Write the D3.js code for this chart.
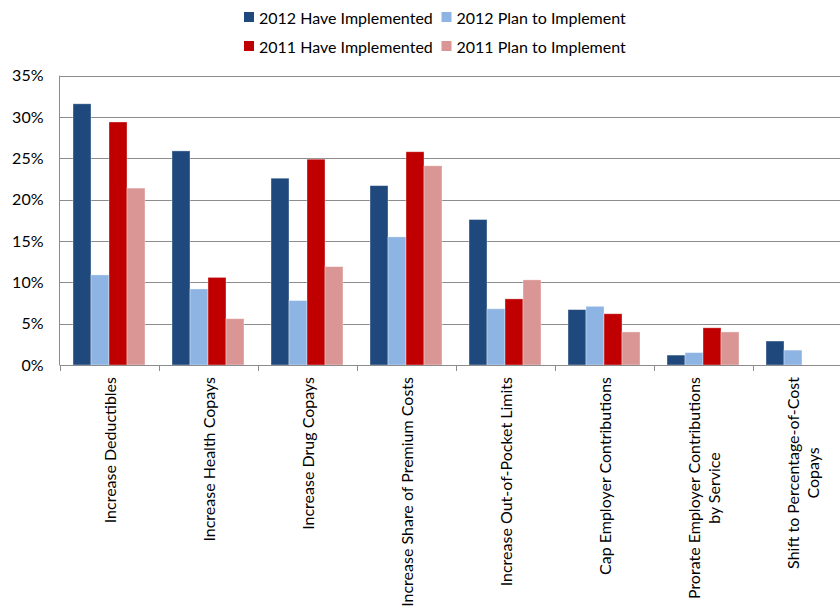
<!DOCTYPE html>
<html>
<head>
<meta charset="utf-8">
<script src="https://cdn.jsdelivr.net/npm/d3@7"></script>
<style>
  html, body { margin: 0; padding: 0; background: #fff; }
  svg { display: block; font-family: Lato, "Open Sans", sans-serif; }
</style>
</head>
<body>
<svg id="chart" width="840" height="612"></svg>
<script>
// Cost-shifting strategies: share of employers, 2011 vs 2012
const categories = [
  ["Increase Deductibles"],
  ["Increase Health Copays"],
  ["Increase Drug Copays"],
  ["Increase Share of Premium Costs"],
  ["Increase Out-of-Pocket Limits"],
  ["Cap Employer Contributions"],
  ["Prorate Employer Contributions", "by Service"],
  ["Shift to Percentage-of-Cost", "Copays"]
];
const seriesNames = ["2012 Have Implemented", "2012 Plan to Implement", "2011 Have Implemented", "2011 Plan to Implement"];
const seriesColors = ["#1F497D", "#8EB4E3", "#C00000", "#D99694"];

const have2012 = [31.6, 25.9, 22.6, 21.7, 17.6, 6.7, 1.2, 2.9];
const plan2012 = [10.9, 9.2, 7.8, 15.5, 6.8, 7.1, 1.5, 1.8];
const have2011 = [29.4, 10.6, 24.9, 25.8, 8.0, 6.2, 4.5, null];
const plan2011 = [21.4, 5.6, 11.9, 24.1, 10.3, 4.0, 4.0, null];
const seriesValues = [have2012, plan2012, have2011, plan2011];

const yTicks = [0, 5, 10, 15, 20, 25, 30, 35];

const svg = d3.select("#chart");
const W = 840;
const plot = { left: 59.5, right: 851.5, top: 75.7, bottom: 365 };

const catKeys = categories.map(c => c.join(" "));
const x0 = d3.scaleBand().domain(catKeys).range([plot.left, plot.right]).padding(0);
const x1 = d3.scaleBand().domain(seriesNames).range([0, x0.bandwidth()])
  .paddingInner(0).paddingOuter(0.75);
const y = d3.scaleLinear().domain([0, 35]).range([plot.bottom, plot.top]);

const gridColor = "#8c8c8c";

// horizontal gridlines
svg.append("g").selectAll("line")
  .data(yTicks.filter(t => t > 0))
  .join("line")
  .attr("x1", plot.left).attr("x2", W)
  .attr("y1", d => Math.round(y(d)) + 0.5).attr("y2", d => Math.round(y(d)) + 0.5)
  .attr("stroke", gridColor).attr("stroke-width", 1);

// bars
const groups = svg.append("g").selectAll("g")
  .data(catKeys)
  .join("g")
  .attr("transform", d => `translate(${x0(d)},0)`);

groups.selectAll("rect")
  .data((d, i) => seriesNames.map((s, j) => ({ s, j, v: seriesValues[j][i] })).filter(e => e.v != null))
  .join("rect")
  .attr("x", d => x1(d.s))
  .attr("width", x1.bandwidth())
  .attr("y", d => y(d.v))
  .attr("height", d => plot.bottom - y(d.v))
  .attr("fill", d => seriesColors[d.j])
  .attr("stroke", "#ffffff").attr("stroke-opacity", 0.45).attr("stroke-width", 0.8);

// y axis
const yAxis = d3.axisLeft(y)
  .tickValues(yTicks)
  .tickFormat(d => d + "%")
  .tickSize(6)
  .tickPadding(10);
const gy = svg.append("g")
  .attr("transform", `translate(${plot.left},0)`)
  .call(yAxis);
gy.select(".domain").attr("stroke", gridColor).attr("d", `M0,${plot.top}V${plot.bottom}`);
gy.selectAll(".tick line").attr("stroke", gridColor).attr("x1", -6);
gy.selectAll(".tick text").attr("font-size", 16).attr("fill", "#000")
  .attr("font-family", "Lato, 'Open Sans', sans-serif");

// x axis baseline and category boundary ticks
svg.append("line")
  .attr("x1", plot.left).attr("x2", W)
  .attr("y1", plot.bottom + 0.5).attr("y2", plot.bottom + 0.5)
  .attr("stroke", gridColor);
svg.append("g").selectAll("line")
  .data(catKeys)
  .join("line")
  .attr("x1", d => Math.round(x0(d)) + 0.5).attr("x2", d => Math.round(x0(d)) + 0.5)
  .attr("y1", plot.bottom).attr("y2", plot.bottom + 6)
  .attr("stroke", gridColor);

// rotated category labels
const lineStep = 20;
const labels = svg.append("g").selectAll("g")
  .data(categories)
  .join("g")
  .attr("transform", (d, i) => `translate(${x0(catKeys[i]) + x0.bandwidth() / 2},${plot.bottom + 12}) rotate(-90)`);

labels.each(function(lines) {
  const g = d3.select(this);
  const texts = lines.map((line, k) => g.append("text")
    .attr("font-size", 16)
    .attr("fill", "#000")
    .attr("text-anchor", "middle")
    .attr("dominant-baseline", "central")
    .attr("y", (k - (lines.length - 1) / 2) * lineStep)
    .text(line));
  const maxLen = d3.max(texts, t => t.node().getComputedTextLength());
  texts.forEach(t => t.attr("x", -maxLen / 2));
});

// legend
const legendCols = [244, 441.5];
const legendRows = [17, 46];
const legend = svg.append("g").selectAll("g")
  .data(seriesNames)
  .join("g")
  .attr("transform", (d, i) => `translate(${legendCols[i % 2]},${legendRows[Math.floor(i / 2)]})`);
legend.append("rect")
  .attr("x", 0).attr("y", -5).attr("width", 10).attr("height", 10)
  .attr("fill", (d, i) => seriesColors[i]);
legend.append("text")
  .attr("x", 15).attr("y", 0)
  .attr("dominant-baseline", "central")
  .attr("font-size", 16).attr("fill", "#000")
  .text(d => d);
</script>
</body>
</html>
